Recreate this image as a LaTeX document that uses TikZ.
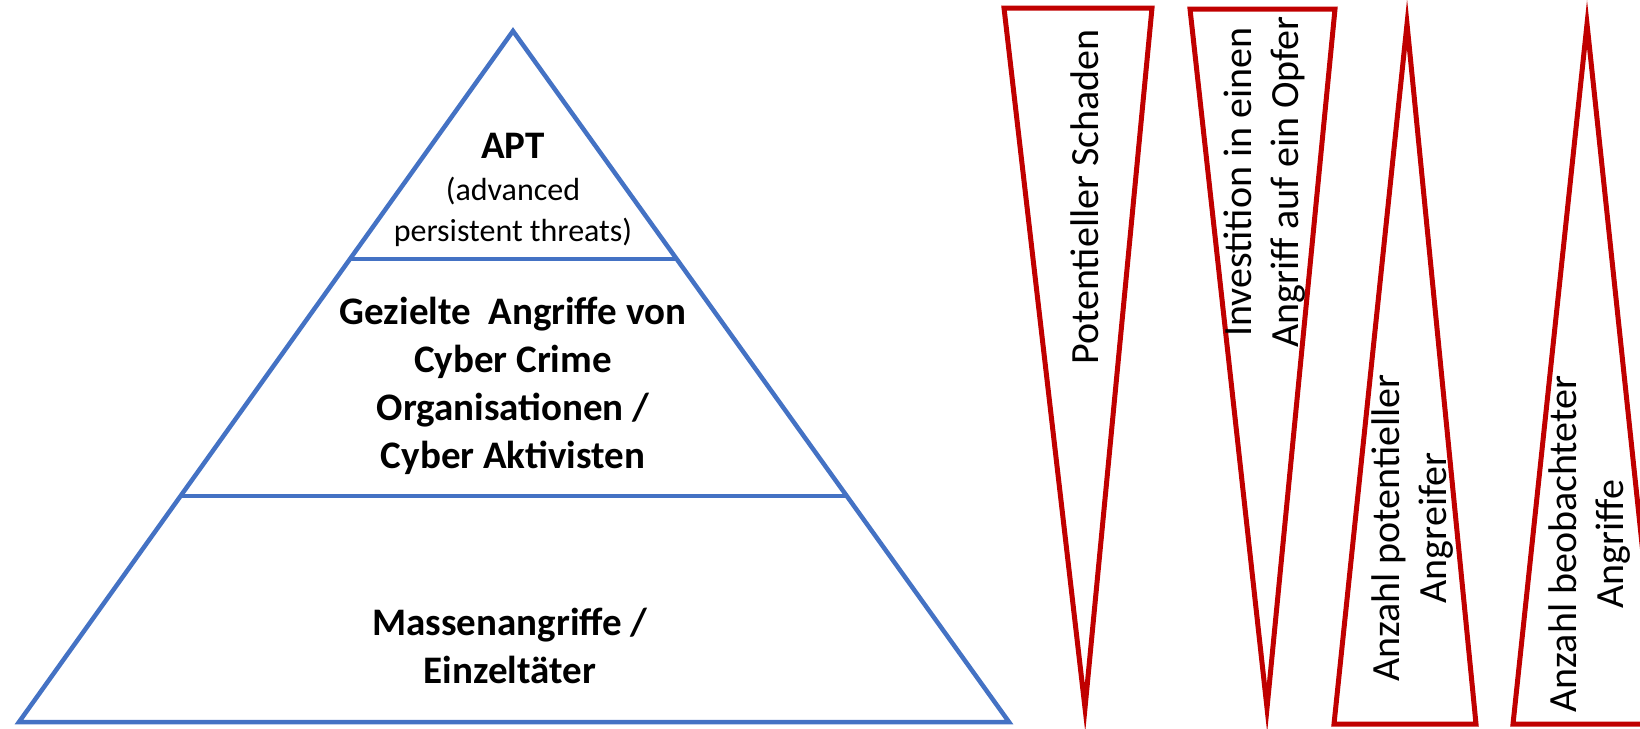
\documentclass[tikz,border=0pt]{standalone}
\usepackage{fontspec}
\setmainfont{Carlito}
\usetikzlibrary{calc}
\definecolor{tierblue}{RGB}{68,114,196}
\definecolor{wedgered}{RGB}{192,0,0}
\tikzset{
  tierline/.style={draw=tierblue, line width=4.5pt},
  wedgeline/.style={draw=wedgered, line width=5pt, line join=miter},
  tierlabel/.style={align=center, font=\fontsize{39}{48}\selectfont\bfseries},
  tiernote/.style={align=center, font=\fontsize{32}{41}\selectfont},
  wedgelabel/.style={align=center, rotate=90, font=\fontsize{40}{47}\selectfont}
}
\newcommand{\redwedge}[6]{\draw[wedgeline] ( #1 , #2 ) -- ( #3 , #4 ) -- ( #5 , #6 ) -- cycle;}

\begin{document}
\begin{tikzpicture}[x=1pt,y=-1pt]
\useasboundingbox (0,0) rectangle (1640,728);
\clip (0,0) rectangle (1640,728);
% pyramid
\coordinate (top) at (513,31);
\coordinate (baseL) at (19,722);
\coordinate (baseR) at (1009,722);
\draw[tierline] (top) -- (baseL) -- (baseR) -- cycle;
\draw[tierline] ($(top)!0.33!(baseL)$) -- ($(top)!0.33!(baseR)$);
\draw[tierline] ($(top)!0.673!(baseL)$) -- ($(top)!0.673!(baseR)$);
% pyramid labels
\node[tierlabel] (apt) at (513,146) {APT};
\node[tiernote] (aptnote) at (513,212) {(advanced\\persistent threats)};
\node[tierlabel] (targeted) at (513,386) {Gezielte\ \ Angriffe von\\Cyber Crime\\Organisationen /\\Cyber Aktivisten};
\node[tierlabel] (mass) at (510,646) {Massenangriffe /\\Einzelt\"ater};
% wedges
\redwedge{1004}{8}{1152}{8}{1085}{708}
\redwedge{1190}{9}{1335}{9}{1267}{708}
\redwedge{1407}{24}{1334}{724}{1476}{724}
\redwedge{1587}{24}{1513}{724}{1661}{724}
% wedge labels
\node[wedgelabel] (damage) at (1085,197) {Potentieller Schaden};
\node[wedgelabel] (invest) at (1265,182) {Investition in einen\\Angriff auf ein Opfer};
\node[wedgelabel] (attackers) at (1413,528) {Anzahl potentieller\\Angreifer};
\node[wedgelabel] (observed) at (1590,544) {Anzahl beobachteter\\Angriffe};
\end{tikzpicture}
\end{document}
